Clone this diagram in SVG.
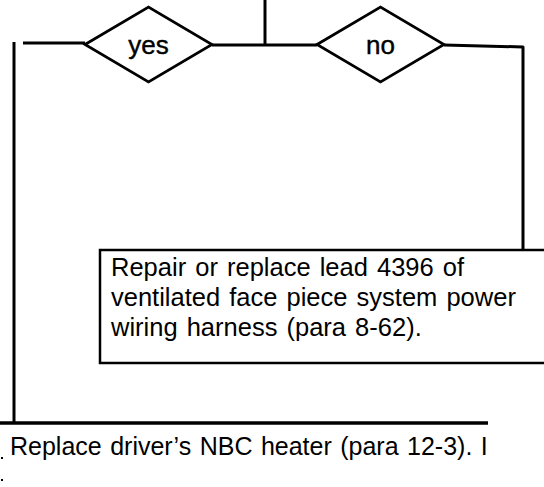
<svg xmlns="http://www.w3.org/2000/svg" width="544" height="487" viewBox="0 0 544 487">
<style>
.ln{fill:none;stroke:#000;stroke-width:3;stroke-linejoin:round;stroke-linecap:butt}
.dia{fill:#fff;stroke:#000;stroke-width:2.7;stroke-linejoin:miter}
.box{fill:#fff;stroke:#000;stroke-width:2.5}
.t{font-family:"Liberation Sans",Arial,sans-serif;font-size:25.5px;fill:#000;word-spacing:2px}
.lbl{font-family:"Liberation Sans",Arial,sans-serif;font-size:26px;fill:#000;stroke:#000;stroke-width:0.4;text-anchor:middle}
</style>
<rect width="544" height="487" fill="#fff"/>
<g id="connectors">
<path class="ln" d="M265,0 V45"/>
<path class="ln" d="M212,45 H317"/>
<path class="ln" d="M23,43 H85"/>
<path class="ln" d="M14,42 V423"/>
<path class="ln" d="M444,45 L523,47 V250"/>
<path class="ln" d="M0,423 H488" style="stroke-width:3.5"/>
</g>
<g id="node-yes">
<polygon class="dia" points="85,44.5 148.5,7 212,44.5 148.5,82"/>
<text class="lbl" x="148.5" y="54">yes</text>
</g>
<g id="node-no">
<polygon class="dia" points="317,44.5 380.5,7 444,44.5 380.5,82"/>
<text class="lbl" x="380.5" y="54">no</text>
</g>
<g id="node-repair">
<rect class="box" x="100" y="250" width="450" height="113"/>
<text class="t" x="111" y="276">Repair or replace lead 4396 of</text>
<text class="t" x="111" y="306">ventilated face piece system power</text>
<text class="t" x="111" y="336">wiring harness (para 8-62).</text>
</g>
<g id="node-replace">
<text class="t" x="10" y="455" style="font-size:25px;word-spacing:1.5px">Replace driver’s NBC heater (para 12-3). I</text>
<rect x="1" y="457" width="2" height="2" fill="#000"/>
<rect x="1" y="479" width="2" height="2" fill="#000"/>
</g>
</svg>
